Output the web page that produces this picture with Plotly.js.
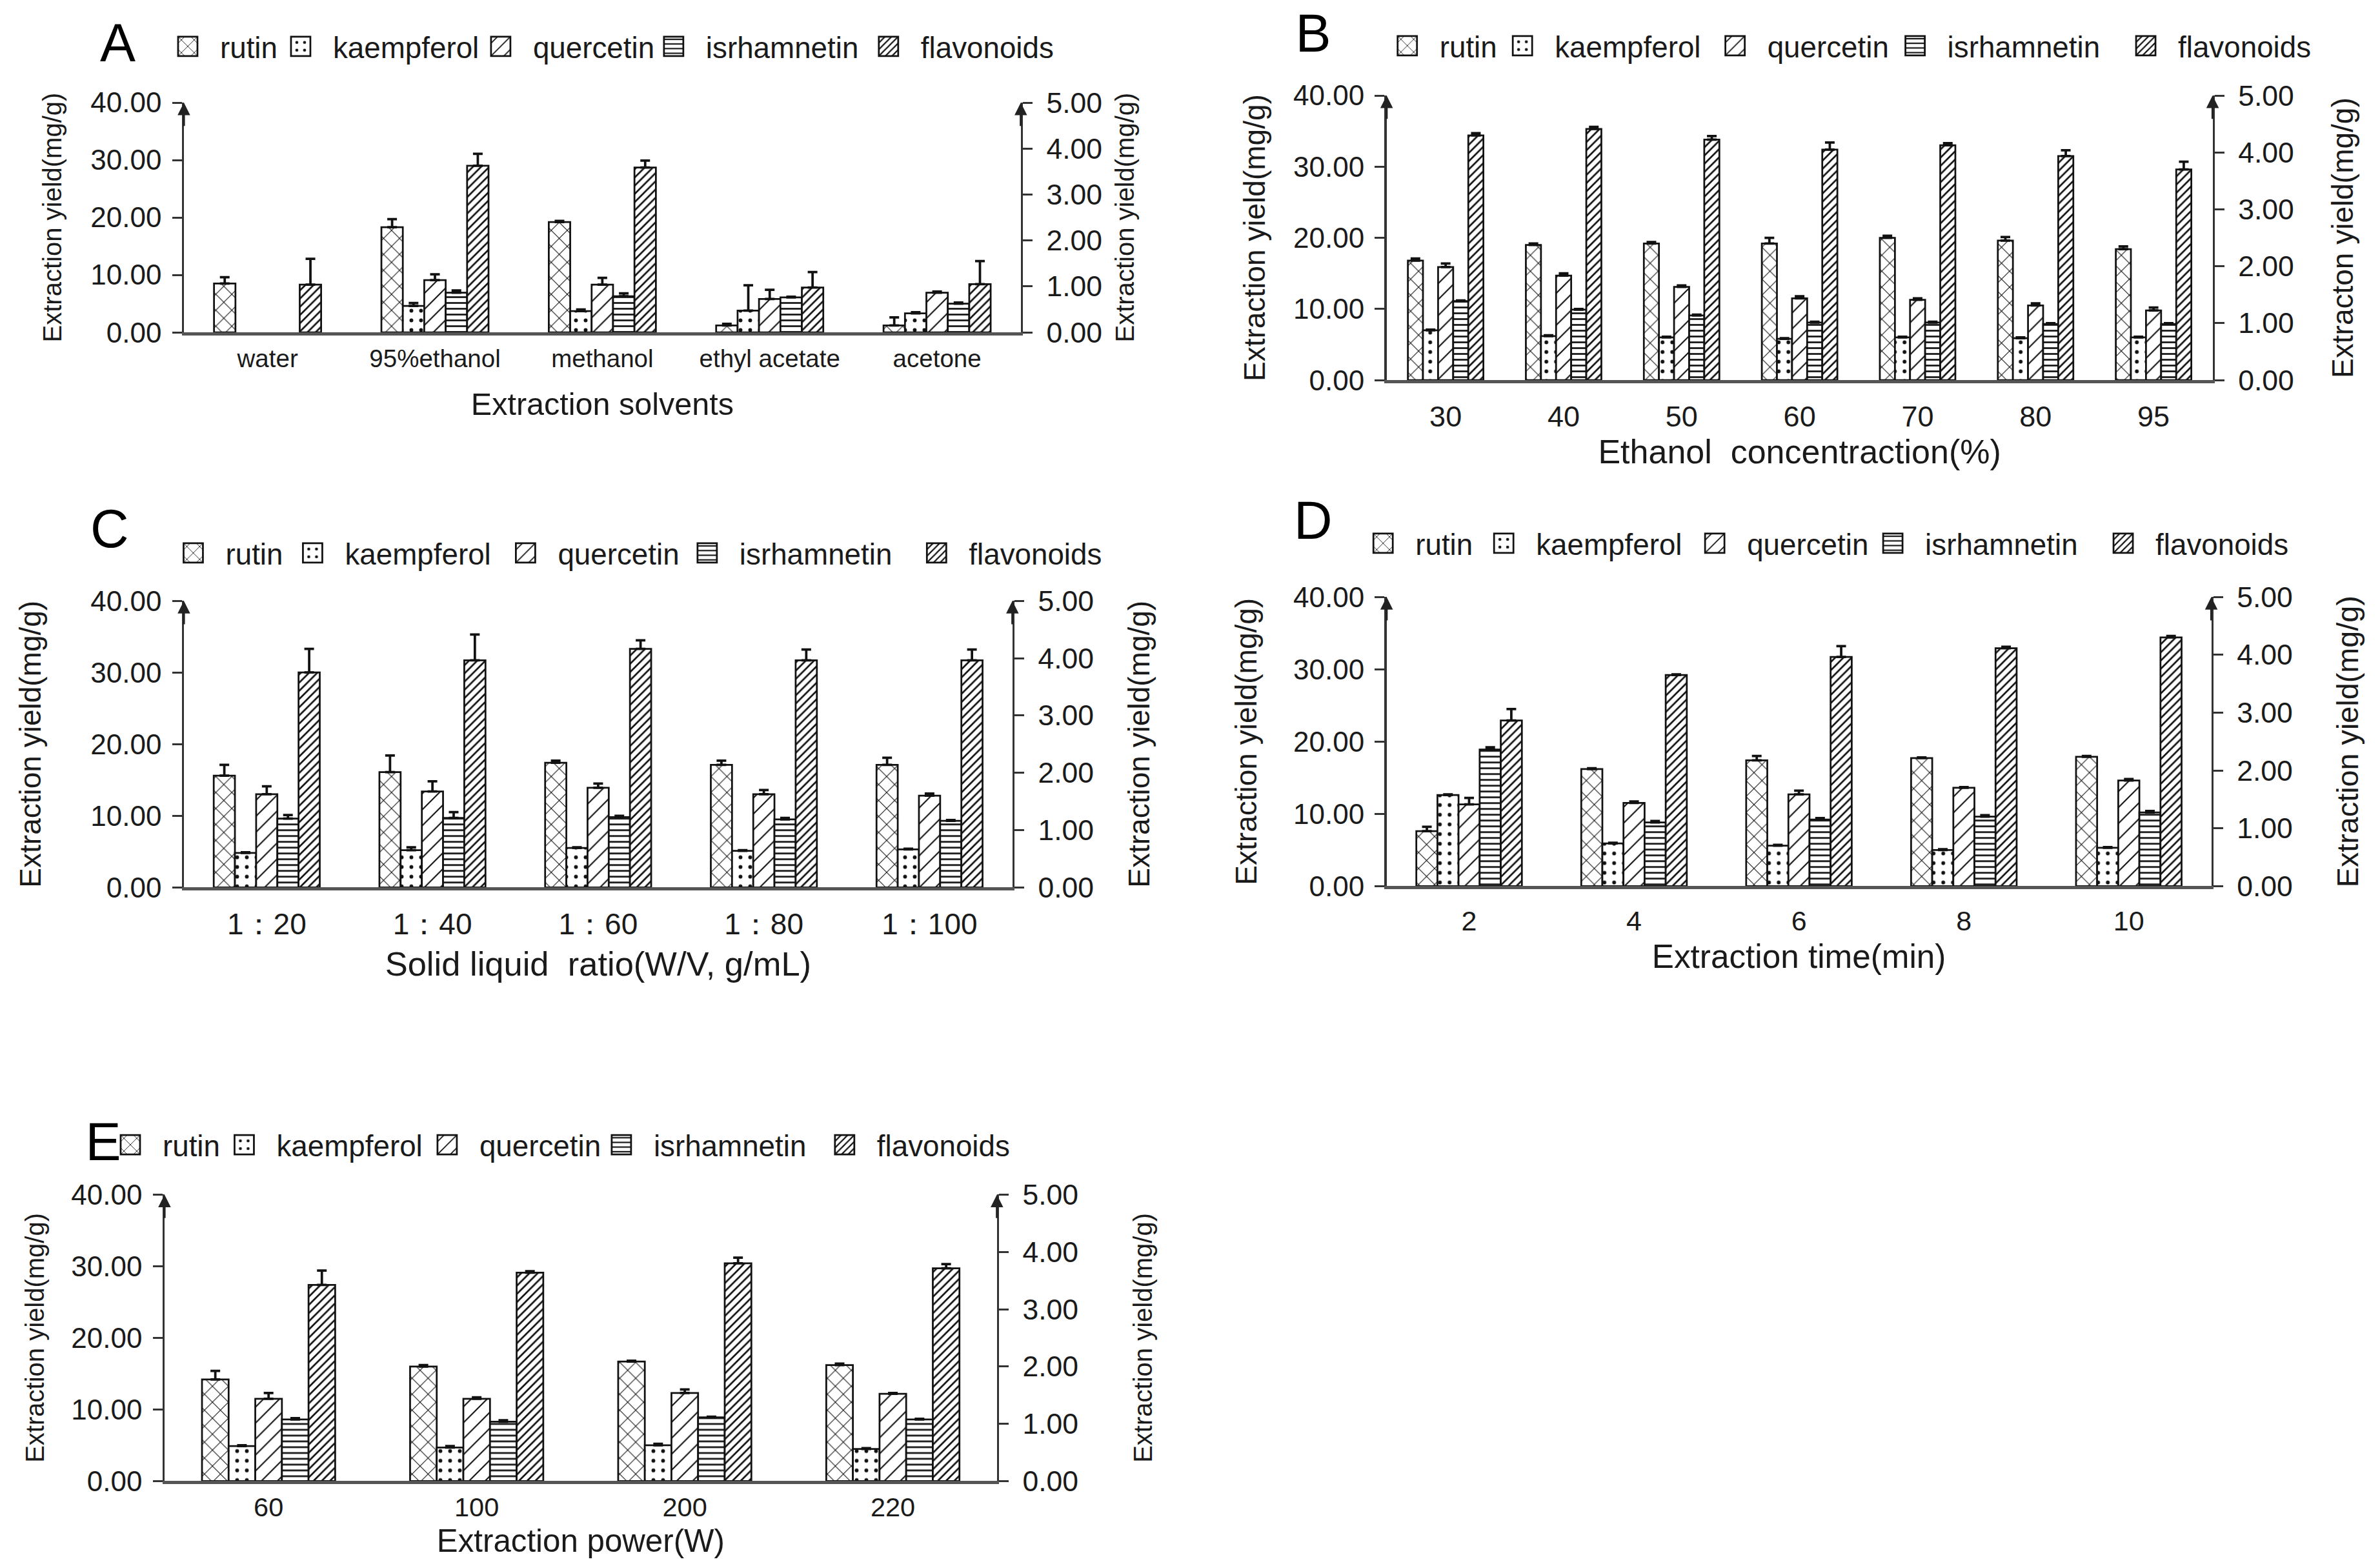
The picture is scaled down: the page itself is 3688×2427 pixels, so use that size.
<!DOCTYPE html>
<html><head><meta charset="utf-8">
<script src="https://cdn.plot.ly/plotly-3.0.1.min.js"></script>
<style>
html,body{margin:0;padding:0;background:#fff;overflow:hidden}
#wrap{width:3688px;height:2427px;overflow:hidden;position:relative;background:#fff}
#chart{position:absolute;left:0;top:0;transform-origin:0 0}
</style></head>
<body><div id="wrap"><div id="chart"></div></div>
<script>
// ---------------- DATA ----------------
const seriesNames = ['rutin', 'kaempferol', 'quercetin', 'isrhamnetin', 'flavonoids'];

// A: extraction solvents
const catsA = ['water', '95%ethanol', 'methanol', 'ethyl acetate', 'acetone'];
const rutinA = [8.5, 18.3, 19.2, 1.2, 1.2];
const rutinErrA = [1.1, 1.4, 0.2, 0.3, 1.4];
const kaempA = [null, 4.6, 3.7, 3.8, 3.3];
const kaempErrA = [0, 0.5, 0.3, 4.4, 0.2];
const quercA = [null, 9.1, 8.3, 5.8, 6.9];
const quercErrA = [0, 1.0, 1.2, 1.6, 0.2];
const isrhA = [null, 6.9, 6.3, 6.1, 5.0];
const isrhErrA = [0, 0.4, 0.5, 0.1, 0.2];
const flavA = [8.3, 29.0, 28.7, 7.8, 8.4];
const flavErrA = [4.5, 2.1, 1.2, 2.7, 4.0];

// B: ethanol concentration
const catsB = ['30', '40', '50', '60', '70', '80', '95'];
const rutinB = [16.8, 19.0, 19.2, 19.2, 20.0, 19.6, 18.4];
const rutinErrB = [0.3, 0.2, 0.2, 0.8, 0.3, 0.5, 0.4];
const kaempB = [7.0, 6.2, 6.0, 5.8, 6.0, 5.9, 6.0];
const kaempErrB = [0.1, 0.1, 0.1, 0.1, 0.1, 0.1, 0.1];
const quercB = [15.9, 14.7, 13.1, 11.5, 11.3, 10.5, 9.8];
const quercErrB = [0.5, 0.3, 0.2, 0.3, 0.2, 0.3, 0.4];
const isrhB = [11.1, 9.9, 9.1, 8.1, 8.1, 7.9, 7.9];
const isrhErrB = [0.1, 0.1, 0.1, 0.1, 0.1, 0.1, 0.1];
const flavB = [34.4, 35.3, 33.8, 32.4, 33.0, 31.5, 29.6];
const flavErrB = [0.3, 0.3, 0.5, 1.0, 0.3, 0.8, 1.1];

// C: solid liquid ratio
const catsC = ['1：20', '1：40', '1：60', '1：80', '1：100'];
const rutinC = [15.6, 16.1, 17.4, 17.1, 17.1];
const rutinErrC = [1.5, 2.3, 0.3, 0.6, 1.0];
const kaempC = [4.8, 5.2, 5.5, 5.1, 5.3];
const kaempErrC = [0.1, 0.4, 0.1, 0.1, 0.1];
const quercC = [13.0, 13.4, 13.9, 13.0, 12.8];
const quercErrC = [1.1, 1.4, 0.6, 0.6, 0.3];
const isrhC = [9.6, 9.7, 9.8, 9.5, 9.3];
const isrhErrC = [0.5, 0.8, 0.2, 0.2, 0.1];
const flavC = [30.0, 31.7, 33.3, 31.7, 31.7];
const flavErrC = [3.3, 3.6, 1.2, 1.5, 1.5];

// D: extraction time
const catsD = ['2', '4', '6', '8', '10'];
const rutinD = [7.6, 16.2, 17.4, 17.7, 17.9];
const rutinErrD = [0.6, 0.1, 0.6, 0.1, 0.1];
const kaempD = [12.6, 5.9, 5.6, 5.0, 5.3];
const kaempErrD = [0.1, 0.1, 0.1, 0.1, 0.1];
const quercD = [11.3, 11.5, 12.7, 13.6, 14.6];
const quercErrD = [0.9, 0.2, 0.5, 0.1, 0.2];
const isrhD = [18.9, 8.8, 9.2, 9.6, 10.2];
const isrhErrD = [0.3, 0.2, 0.2, 0.2, 0.2];
const flavD = [22.9, 29.2, 31.7, 32.9, 34.4];
const flavErrD = [1.6, 0.1, 1.5, 0.2, 0.2];

// E: extraction power
const catsE = ['60', '100', '200', '220'];
const rutinE = [14.2, 16.0, 16.7, 16.2];
const rutinErrE = [1.2, 0.2, 0.1, 0.2];
const kaempE = [4.9, 4.7, 5.0, 4.5];
const kaempErrE = [0.1, 0.2, 0.2, 0.1];
const quercE = [11.5, 11.5, 12.3, 12.2];
const quercErrE = [0.8, 0.2, 0.5, 0.1];
const isrhE = [8.6, 8.3, 8.9, 8.6];
const isrhErrE = [0.2, 0.2, 0.1, 0.1];
const flavE = [27.4, 29.1, 30.4, 29.7];
const flavErrE = [2.0, 0.2, 0.8, 0.6];

const leftTicks = [0, 10, 20, 30, 40];
const rightTicks = [0, 1, 2, 3, 4, 5];
const yTitleText = 'Extraction yield(mg/g)';
const yTitleTextB = 'Extracton yield(mg/g)';

// ---------------- LAYOUT ----------------
const S = 2.5, FW = 3688, FH = 2427, W = FW / S, H = FH / S;
const px = v => v / FW;
const py = v => 1 - v / FH;
const FONT = 'Liberation Sans, Arial, Helvetica, sans-serif';
const INK = '#1a1a1a';

const PATTERNS = [
  {shape: 'x', size: 7, solidity: 0.12},
  {shape: '.', size: 6, solidity: 0.12},
  {shape: '/', size: 7, solidity: 0.12},
  {shape: '-', size: 3.6, solidity: 0.3},
  {shape: '/', size: 3.6, solidity: 0.3}
];

const PANELS = [
  {letter: 'A', L: [183, 67], cats: catsA,
   vals: [rutinA, kaempA, quercA, isrhA, flavA], errs: [rutinErrA, kaempErrA, quercErrA, isrhErrA, flavErrA],
   x0: 285, x1: 1582, top: 159, bot: 515, xtitle: 'Extraction solvents', ytR: yTitleText,
   catFont: 15.4, catStand: 1, xtFont: 19.4, xtStand: 14, ytFontL: 16, ytFontR: 16, ytStandL: 13, ytStandR: 9,
   legY: 72, legBox: [305, 479, 789, 1057, 1390], legText: [333, 509, 819, 1087, 1420]},
  {letter: 'B', L: [2035, 50], cats: catsB,
   vals: [rutinB, kaempB, quercB, isrhB, flavB], errs: [rutinErrB, kaempErrB, quercErrB, isrhErrB, flavErrB],
   x0: 2149, x1: 3429, top: 148, bot: 589, xtitle: 'Ethanol  concentraction(%)', ytR: yTitleTextB,
   catFont: 18, catStand: 5, xtFont: 20.8, xtStand: 3, ytFontL: 18.4, ytFontR: 18.4, ytStandL: 12, ytStandR: 24,
   legY: 71, legBox: [2198, 2370, 2701, 2976, 3339], legText: [2220, 2405, 2733, 3016, 3368]},
  {letter: 'C', L: [170, 819], cats: catsC,
   vals: [rutinC, kaempC, quercC, isrhC, flavC], errs: [rutinErrC, kaempErrC, quercErrC, isrhErrC, flavErrC],
   x0: 285, x1: 1569, top: 931, bot: 1375, xtitle: 'Solid liquid  ratio(W/V, g/mL)', ytR: yTitleText,
   catFont: 18.4, catStand: 5, xtFont: 21, xtStand: 8, ytFontL: 18.4, ytFontR: 18.4, ytStandL: 25, ytStandR: 22,
   legY: 857, legBox: [313, 496, 826, 1109, 1463], legText: [342, 529, 859, 1139, 1496]},
  {letter: 'D', L: [2035, 807], cats: catsD,
   vals: [rutinD, kaempD, quercD, isrhD, flavD], errs: [rutinErrD, kaempErrD, quercErrD, isrhErrD, flavErrD],
   x0: 2149, x1: 3427, top: 925, bot: 1373, xtitle: 'Extraction time(min)', ytR: yTitleText,
   catFont: 17.2, catStand: 5, xtFont: 20.5, xtStand: 1, ytFontL: 18.4, ytFontR: 18.7, ytStandL: 17, ytStandR: 28,
   legY: 842, legBox: [2157, 2341, 2670, 2947, 3301], legText: [2186, 2376, 2701, 2976, 3336]},
  {letter: 'E', L: [160, 1769], cats: catsE,
   vals: [rutinE, kaempE, quercE, isrhE, flavE], errs: [rutinErrE, kaempErrE, quercErrE, isrhErrE, flavErrE],
   x0: 255, x1: 1545, top: 1851, bot: 2295, xtitle: 'Extraction power(W)', ytR: yTitleText,
   catFont: 16.6, catStand: 0, xtFont: 19.7, xtStand: 0, ytFontL: 16, ytFontR: 16, ytStandL: 12, ytStandR: 35,
   legY: 1774, legBox: [216, 392, 705, 977, 1321], legText: [244, 421, 737, 1005, 1353]}
];

const traces = [];
const layout = {
  width: W, height: H,
  margin: {l: 0, r: 0, t: 0, b: 0},
  paper_bgcolor: '#fff', plot_bgcolor: 'rgba(0,0,0,0)',
  font: {family: FONT, color: INK, size: 16},
  barmode: 'group', bargap: 0.36, bargroupgap: 0,
  hovermode: false,
  annotations: []
};

PANELS.forEach((p, i) => {
  const xk = i === 0 ? 'xaxis' : 'xaxis' + (i + 1);
  const xr = i === 0 ? 'x' : 'x' + (i + 1);
  const yLn = 2 * i + 1, yRn = 2 * i + 2;
  const yLk = yLn === 1 ? 'yaxis' : 'yaxis' + yLn;
  const yLr = yLn === 1 ? 'y' : 'y' + yLn;
  const yRk = 'yaxis' + yRn, yRr = 'y' + yRn;
  const ydom = [py(p.bot), py(p.top)];

  layout[xk] = {
    domain: [px(p.x0), px(p.x1)], anchor: yLr, type: 'category',
    range: [-0.5, p.cats.length - 0.5], fixedrange: true,
    showline: true, linecolor: '#555', linewidth: 2, ticks: '', showgrid: false, zeroline: false,
    tickfont: {size: p.catFont, family: FONT, color: INK}, ticklabelstandoff: p.catStand,
    title: {text: p.xtitle, font: {size: p.xtFont, family: FONT, color: INK}, standoff: p.xtStand}
  };
  layout[yLk] = {
    domain: ydom, anchor: xr, range: [0, 40], fixedrange: true,
    tickvals: leftTicks, tickformat: '.2f', ticks: 'outside', ticklen: 6, tickwidth: 1.2, tickcolor: '#333',
    showline: true, linecolor: '#333', linewidth: 1.3, showgrid: false, zeroline: false,
    tickfont: {size: 17.6, family: FONT, color: INK}, ticklabelstandoff: 3,
    title: {text: yTitleText, font: {size: p.ytFontL, family: FONT, color: INK}, standoff: p.ytStandL}
  };
  layout[yRk] = {
    domain: ydom, anchor: xr, overlaying: yLr, side: 'right', range: [0, 5], fixedrange: true,
    tickvals: rightTicks, tickformat: '.2f', ticks: 'outside', ticklen: 6, tickwidth: 1.2, tickcolor: '#333',
    showline: true, linecolor: '#333', linewidth: 1.3, showgrid: false, zeroline: false,
    tickfont: {size: 17.8, family: FONT, color: INK}, ticklabelstandoff: 5,
    title: {text: p.ytR, font: {size: p.ytFontR, family: FONT, color: INK}, standoff: p.ytStandR}
  };

  // panel letter
  layout.annotations.push({
    text: p.letter, xref: 'paper', yref: 'paper', x: px(p.L[0]), y: py(p.L[1]),
    xanchor: 'center', yanchor: 'middle', showarrow: false,
    font: {size: 33, family: FONT, color: '#000'}
  });
  // axis arrows
  layout.annotations.push({
    text: '', xref: xr + ' domain', yref: yLr, x: 0, y: 40, ax: 0, ay: 16,
    showarrow: true, arrowhead: 2, arrowsize: 1.2, arrowwidth: 1.3, arrowcolor: '#222'
  });
  layout.annotations.push({
    text: '', xref: xr + ' domain', yref: yRr, x: 1, y: 5, ax: 0, ay: 16,
    showarrow: true, arrowhead: 2, arrowsize: 1.2, arrowwidth: 1.3, arrowcolor: '#222'
  });

  seriesNames.forEach((name, s) => {
    const n = i * 5 + s;
    const lg = n === 0 ? 'legend' : 'legend' + (n + 1);
    const pat = PATTERNS[s];
    traces.push({
      type: 'bar', name: name, x: p.cats, y: p.vals[s],
      xaxis: xr, yaxis: yLr, legend: lg, showlegend: true,
      marker: {
        color: '#ffffff',
        line: {color: '#111', width: 1.1},
        pattern: {shape: pat.shape, size: pat.size, solidity: pat.solidity, fgcolor: '#111', bgcolor: '#ffffff', fillmode: 'replace'}
      },
      error_y: {
        type: 'data', symmetric: false, array: p.errs[s], arrayminus: p.errs[s].map(() => 0),
        color: '#111', thickness: 1.5, width: 3
      }
    });
    const left = (p.legBox[s] + p.legText[s]) / 2 - 78;
    layout[lg] = {
      x: px(left), xanchor: 'left', y: py(p.legY), yanchor: 'middle',
      orientation: 'h', bgcolor: 'rgba(0,0,0,0)', borderwidth: 0,
      font: {size: 18.3, family: FONT, color: INK}, itemwidth: 30,
      itemclick: false, itemdoubleclick: false
    };
  });
});

const el = document.getElementById('chart');
el.style.width = W + 'px';
el.style.height = H + 'px';
el.style.transform = 'scale(' + S + ')';
Plotly.newPlot(el, traces, layout, {staticPlot: true, displayModeBar: false});
</script>
</body></html>
